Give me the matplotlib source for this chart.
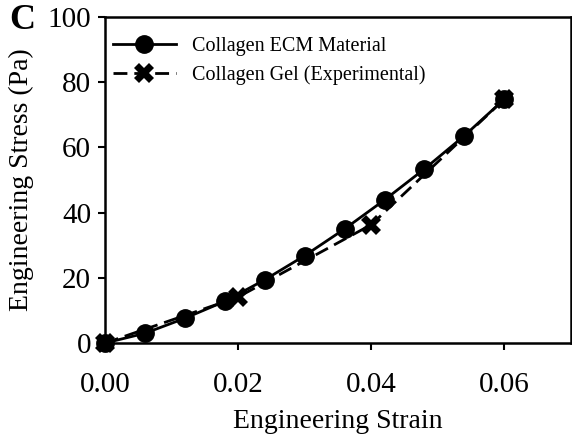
import matplotlib.pyplot as plt
from matplotlib.lines import Line2D

plt.rcParams["font.family"] = ["Liberation Serif", "DejaVu Serif"]

# Collagen ECM material model
ecm_strain = [0.0, 0.006, 0.012, 0.018, 0.024, 0.030, 0.036, 0.042, 0.048, 0.054, 0.060]
ecm_stress = [0.0, 3.0, 7.6, 12.8, 19.4, 26.8, 35.0, 43.9, 53.4, 63.6, 74.8]

# Collagen gel experiment
gel_strain = [0.0, 0.020, 0.040, 0.060]
gel_stress = [0.0, 14.1, 36.3, 74.8]

x_ticks = [0.00, 0.02, 0.04, 0.06]
y_ticks = [0, 20, 40, 60, 80, 100]

fig = plt.figure(figsize=(5.72, 4.37), dpi=100)
ax = fig.add_axes([0.1836, 0.215, 0.8144, 0.746])

dash = (0, (5, 2.5))
ax.plot(gel_strain, gel_stress, color="black", ls=dash, lw=2,
        marker="X", markersize=14, markeredgewidth=0, zorder=2, clip_on=False)
ax.plot(ecm_strain, ecm_stress, color="black", ls="-", lw=2,
        marker="o", markersize=12.5, zorder=3, clip_on=False)

ax.set_xlim(0, 0.07)
ax.set_ylim(0, 100)
ax.set_xticks(x_ticks)
ax.set_xticklabels([f"{v:.2f}" for v in x_ticks])
ax.set_yticks(y_ticks)
ax.tick_params(direction="out", length=5, width=1.5, labelsize=21, pad=5)
ax.tick_params(axis="x", pad=16)
for s in ax.spines.values():
    s.set_linewidth(1.8)

ax.set_xlabel("Engineering Strain", fontsize=20, labelpad=8)
ax.set_ylabel("Engineering Stress (Pa)", fontsize=20, labelpad=10)

handles = [
    Line2D([], [], color="black", lw=2, marker="o", markersize=12.5),
    Line2D([], [], color="black", lw=2, ls=dash, marker="X",
           markersize=14, markeredgewidth=0),
]
ax.legend(handles, ["Collagen ECM Material", "Collagen Gel (Experimental)"],
          loc="upper left", bbox_to_anchor=(0.0, 0.965), frameon=False,
          fontsize=14.5, handlelength=3.1, handletextpad=0.8,
          borderaxespad=0.0, labelspacing=0.5)

fig.text(0.016, 0.99, "C", fontsize=26, fontweight="bold", va="top", ha="left")

fig.savefig("out.png", dpi=100)
